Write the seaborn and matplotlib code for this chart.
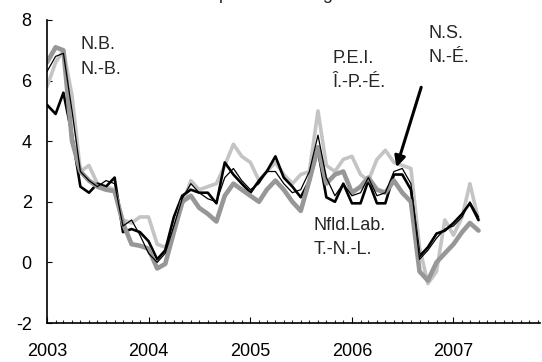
import pandas as pd
import numpy as np
import matplotlib
matplotlib.use("Agg")
import matplotlib.pyplot as plt
import matplotlib.dates as mdates
from matplotlib.ticker import FixedLocator
import seaborn as sns

# ==========================================
# DATA (monthly, Jan 2003 - Apr 2007)
# ==========================================
months = pd.date_range("2003-01-01", periods=52, freq="MS")

# N.B. / N.-B. (thick medium grey)
nb = [6.6, 7.1, 7.0, 4.0, 3.0, 2.7, 2.5, 2.4, 2.35, 1.3, 0.6, 0.55,
      0.45, -0.2, -0.05, 1.0, 2.0, 2.2, 1.8, 1.6, 1.35, 2.2, 2.6, 2.4,
      2.2, 2.0, 2.4, 2.7, 2.4, 2.0, 1.7, 2.7, 3.8, 2.6, 2.9, 3.0,
      2.3, 2.5, 2.8, 2.4, 2.3, 2.7, 2.3, 2.0, -0.3, -0.6, 0.0, 0.3,
      0.6, 1.0, 1.3, 1.05]

# P.E.I. / Î.-P.-É. (light grey)
pei = [5.8, 6.6, 7.0, 5.5, 3.0, 3.2, 2.6, 2.5, 2.4, 1.4, 1.3, 1.5,
       1.5, 0.6, 0.5, 1.0, 1.9, 2.7, 2.4, 2.5, 2.6, 3.2, 3.9, 3.5,
       3.3, 2.7, 3.0, 3.3, 2.9, 2.6, 2.9, 3.0, 5.0, 3.2, 3.0, 3.4,
       3.5, 2.9, 2.7, 3.4, 3.7, 3.3, 3.2, 3.1, 0.5, -0.7, -0.3, 1.4,
       0.9, 1.5, 2.6, 1.4]

# Nfld.Lab. / T.-N.-L. (thick black)
nfld = [5.2, 4.9, 5.6, 4.2, 2.5, 2.3, 2.6, 2.5, 2.8, 1.0, 1.1, 1.0,
        0.7, 0.1, 0.4, 1.5, 2.2, 2.4, 2.3, 2.3, 1.95, 3.3, 2.9, 2.6,
        2.3, 2.7, 3.0, 3.5, 2.8, 2.5, 2.15, 2.7, 3.7, 2.15, 2.0, 2.6,
        1.95, 1.95, 2.7, 1.95, 1.95, 2.9, 2.9, 2.4, 0.2, 0.5, 0.95, 1.05,
        1.3, 1.6, 1.95, 1.4]

# N.S. / N.-É. (thin black)
ns = [6.3, 6.8, 6.9, 5.0, 3.0, 2.7, 2.5, 2.7, 2.6, 1.2, 1.4, 0.9,
      0.3, 0.0, 0.3, 1.2, 2.1, 2.6, 2.3, 2.1, 2.0, 2.8, 3.1, 2.7,
      2.4, 2.6, 3.0, 3.0, 2.6, 2.3, 2.4, 3.0, 4.2, 2.8, 2.2, 2.6,
      2.2, 2.3, 2.8, 2.2, 2.3, 3.0, 3.1, 2.6, 0.1, 0.4, 0.8, 1.1,
      1.2, 1.5, 2.0, 1.5]

y_ticks = [-2, 0, 2, 4, 6, 8]

df = pd.DataFrame({"month": months, "nb": nb, "pei": pei, "nfld": nfld, "ns": ns})

# ==========================================
# STYLE
# ==========================================
sns.set_style("ticks")
plt.rcParams["font.family"] = ["Liberation Sans", "DejaVu Sans"]
plt.rcParams["axes.unicode_minus"] = False

fig = plt.figure(figsize=(5.42, 3.62), dpi=100)
ax = fig.add_axes([47 / 542, 39 / 362, 493 / 542, 303 / 362])

# ==========================================
# LINES
# ==========================================
sns.lineplot(data=df, x="month", y="pei", color="#c4c4c4", linewidth=2.6, ax=ax)
sns.lineplot(data=df, x="month", y="nfld", color="black", linewidth=1.9, ax=ax)
sns.lineplot(data=df, x="month", y="nb", color="#979797", linewidth=3.3, ax=ax)
sns.lineplot(data=df, x="month", y="ns", color="black", linewidth=0.9, ax=ax)

# ==========================================
# AXES
# ==========================================
ax.set_xlim(pd.Timestamp("2003-01-01"), pd.Timestamp("2007-11-08"))
ax.set_ylim(-2, 8)
ax.set_xlabel("")
ax.set_ylabel("")
sns.despine(ax=ax)
for s in ["left", "bottom"]:
    ax.spines[s].set_linewidth(1.2)
    ax.spines[s].set_color("black")

ax.yaxis.set_major_locator(FixedLocator(y_ticks))
ax.xaxis.set_major_locator(mdates.YearLocator())
ax.xaxis.set_minor_locator(mdates.MonthLocator())
ax.xaxis.set_major_formatter(mdates.DateFormatter("%Y"))

ax.tick_params(axis="y", direction="in", length=3.6, width=0.8, pad=11, labelsize=13, colors="black")
ax.tick_params(axis="x", which="major", direction="in", length=4.3, width=0.8, pad=14.5, labelsize=13, colors="black")
ax.tick_params(axis="x", which="minor", direction="in", length=2.4, width=0.8)

# ==========================================
# LABELS
# ==========================================
lab = dict(fontsize=13, va="top", ha="left", linespacing=1.55)
ax.text(pd.Timestamp("2003-05-01"), 7.46, "N.B.\nN.-B.", **lab)
ax.text(pd.Timestamp("2005-10-24"), 7.0, "P.E.I.\nÎ.-P.-É.", **lab)
ax.text(pd.Timestamp("2006-10-02"), 7.85, "N.S.\nN.-É.", **lab)
ax.text(pd.Timestamp("2005-08-16"), 1.49, "Nfld.Lab.\nT.-N.-L.", **lab)

ax.annotate("", xy=(pd.Timestamp("2006-06-10"), 3.14), xytext=(pd.Timestamp("2006-09-07"), 5.78),
            arrowprops=dict(arrowstyle="-|>", color="black", lw=2.2, mutation_scale=16, shrinkA=0, shrinkB=0))

# title cut off at the top edge in the reference, only descenders show
fig.text(138 / 542, 1.0 + 0.5 / 362, "12-month percent change", fontsize=13, ha="left", va="baseline")

fig.savefig("out.png", dpi=100)
